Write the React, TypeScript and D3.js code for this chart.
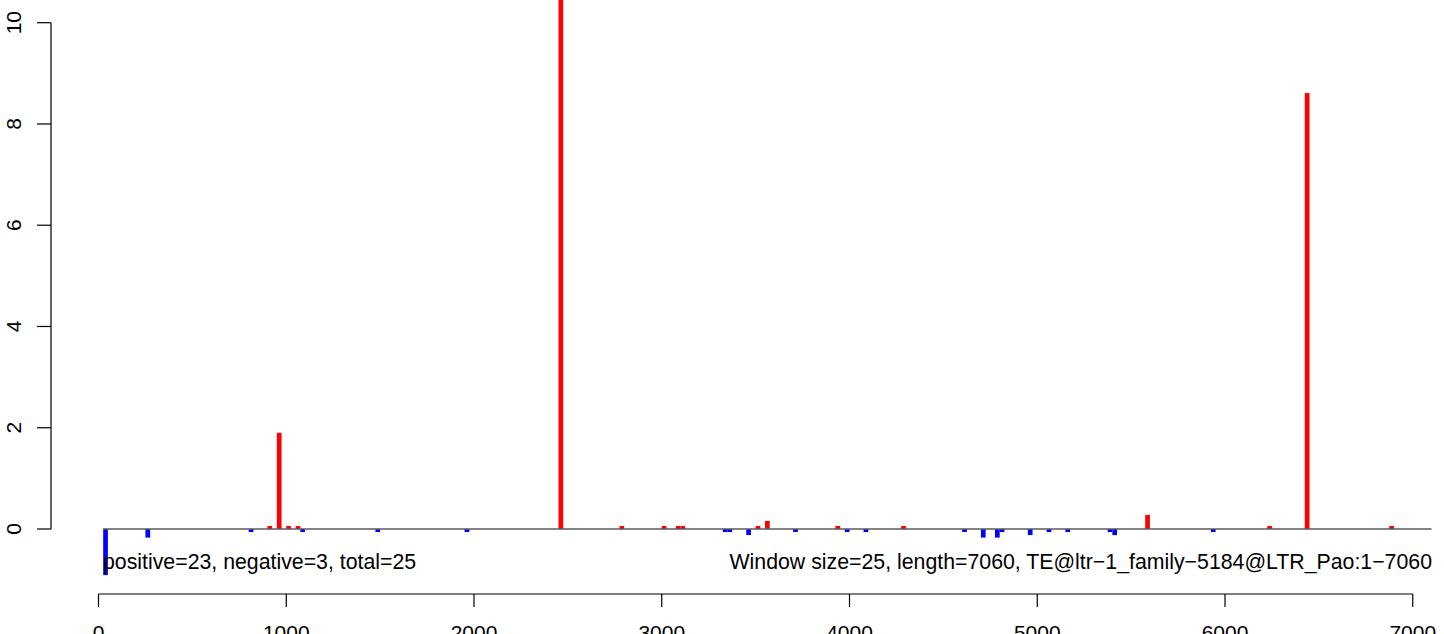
import React from "react";
import * as d3 from "d3";

// Window starts (bp) and scores
const windowSize = 25;
const posStarts = [900, 950, 1000, 1050, 2450, 2775, 3000, 3075, 3100, 3500, 3550, 3925, 4275, 5575, 6225, 6425, 6875];
const posValues = [0.06, 1.9, 0.06, 0.06, 10.9, 0.06, 0.06, 0.06, 0.06, 0.06, 0.16, 0.06, 0.06, 0.28, 0.06, 8.61, 0.06];
const negStarts = [25, 250, 800, 1075, 1475, 1950, 3325, 3350, 3450, 3700, 3975, 4075, 4600, 4700, 4775, 4800, 4950, 5050, 5150, 5375, 5400, 5925];
const negValues = [-0.91, -0.17, -0.06, -0.06, -0.06, -0.06, -0.06, -0.06, -0.12, -0.06, -0.06, -0.06, -0.06, -0.17, -0.17, -0.06, -0.12, -0.06, -0.06, -0.06, -0.12, -0.06];
const xTicks = [0, 1000, 2000, 3000, 4000, 5000, 6000, 7000];
const yTicks = [0, 2, 4, 6, 8, 10];
const leftLabel = "positive=23, negative=3, total=25";
const rightLabel = "Window size=25, length=7060, TE@ltr\u22121_family\u22125184@LTR_Pao:1\u22127060";
const baselineRange = [25, 7100];

const W = 1444;
const H = 634;
const FONT = "'Liberation Sans', Arial, Helvetica, sans-serif";

export default function App() {
  const x = d3.scaleLinear().domain([0, 7000]).range([98.5, 1412.75]);
  const y = d3.scaleLinear().domain([0, 10]).range([529, 22.7]);
  const bars = [
    ...posStarts.map((s, i) => ({ s, v: posValues[i], c: "#FF0000" })),
    ...negStarts.map((s, i) => ({ s, v: negValues[i], c: "#0000FF" })),
  ];
  const axisY = 594;
  const axisX = 51;
  return (
    <div style={{ position: "absolute", left: 0, top: 0 }}>
      <svg width={W} height={H} style={{ display: "block" }} fontFamily={FONT}>
        <rect width={W} height={H} fill="#fff" />
        {bars.map((b, i) => {
          const x0 = x(b.s);
          const x1 = x(b.s + windowSize);
          const y0 = y(0);
          const y1 = y(b.v);
          return (
            <rect key={i} x={x0} width={x1 - x0} y={Math.min(y0, y1)} height={Math.abs(y1 - y0)} fill={b.c} />
          );
        })}
        <line x1={x(baselineRange[0])} x2={x(baselineRange[1])} y1={y(0)} y2={y(0)} stroke="#5a5a5a" strokeWidth={1.3} />
        {/* y axis */}
        <line x1={axisX} x2={axisX} y1={y(yTicks[0])} y2={y(yTicks[yTicks.length - 1])} stroke="#000" strokeWidth={1.2} />
        {yTicks.map((t) => (
          <g key={t}>
            <line x1={axisX - 14} x2={axisX} y1={y(t)} y2={y(t)} stroke="#000" strokeWidth={1.2} />
            <text transform={`translate(21,${y(t)}) rotate(-90)`} textAnchor="middle" fontSize={21} fill="#000">
              {t}
            </text>
          </g>
        ))}
        {/* x axis */}
        <line x1={x(xTicks[0])} x2={x(xTicks[xTicks.length - 1])} y1={axisY} y2={axisY} stroke="#000" strokeWidth={1.2} />
        {xTicks.map((t) => (
          <g key={t}>
            <line x1={x(t)} x2={x(t)} y1={axisY} y2={axisY + 13} stroke="#000" strokeWidth={1.2} />
            <text x={x(t)} y={640} textAnchor="middle" fontSize={21} fill="#000">
              {t}
            </text>
          </g>
        ))}
        <text x={103} y={569} fontSize={21.3} fill="#000">{leftLabel}</text>
        <text x={1432} y={569} fontSize={21.3} fill="#000" textAnchor="end">{rightLabel}</text>
      </svg>
    </div>
  );
}
